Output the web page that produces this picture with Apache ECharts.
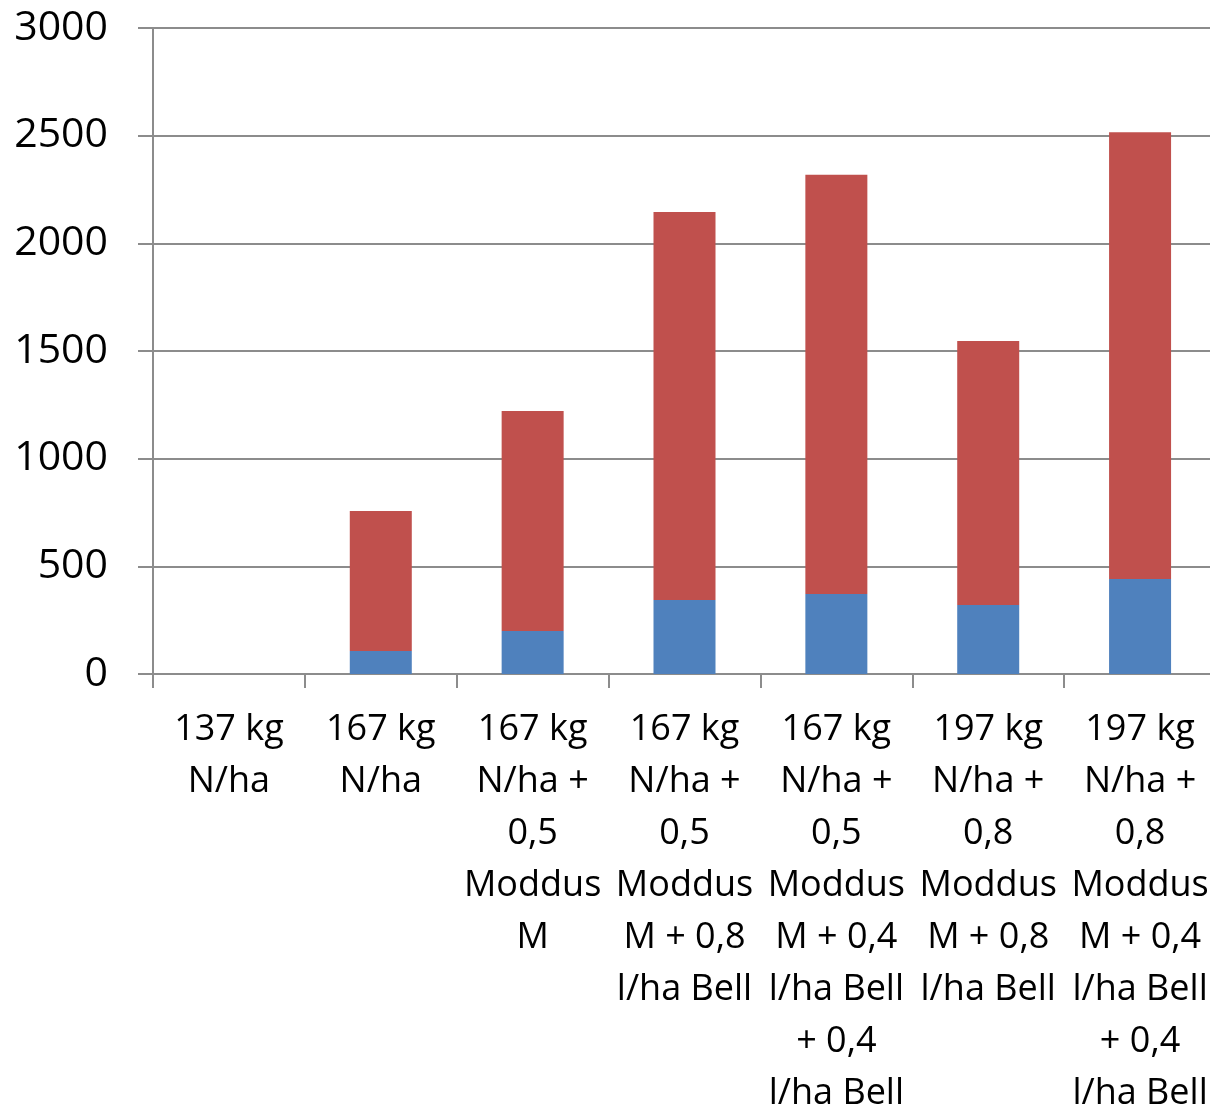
<!DOCTYPE html>
<html>
<head>
<meta charset="utf-8">
<script src="https://cdn.jsdelivr.net/npm/echarts@6/dist/echarts.min.js"></script>
<style>
html,body{margin:0;padding:0;background:#fff;overflow:hidden;}
#chart{width:1210px;height:1113px;}
</style>
</head>
<body>
<div id="chart"></div>
<script>
const categories = [
  "137 kg\nN/ha",
  "167 kg\nN/ha",
  "167 kg\nN/ha +\n0,5\nModdus\nM",
  "167 kg\nN/ha +\n0,5\nModdus\nM + 0,8\nl/ha Bell",
  "167 kg\nN/ha +\n0,5\nModdus\nM + 0,4\nl/ha Bell\n+ 0,4\nl/ha Bell",
  "197 kg\nN/ha +\n0,8\nModdus\nM + 0,8\nl/ha Bell",
  "197 kg\nN/ha +\n0,8\nModdus\nM + 0,4\nl/ha Bell\n+ 0,4\nl/ha Bell"
];
const seriesBlue = [0, 107, 200, 344, 372, 320, 441];
const seriesRed = [0, 650, 1021, 1802, 1946, 1227, 2075];
const yTicks = {min: 0, max: 3000, interval: 500};

const chart = echarts.init(document.getElementById('chart'), null, {renderer: 'canvas'});
const gray = '#8c8c8c';
chart.setOption({
  animation: false,
  backgroundColor: '#ffffff',
  grid: {left: 153, right: -6, top: 28, bottom: 439, containLabel: false, outerBoundsMode: 'none'},
  xAxis: {
    type: 'category',
    data: categories,
    axisLine: {show: true, lineStyle: {color: gray, width: 2}},
    axisTick: {show: true, length: 14, lineStyle: {color: gray, width: 2}},
    axisLabel: {
      interval: 0,
      margin: 30,
      color: '#000',
      fontFamily: 'Open Sans',
      fontSize: 36,
      lineHeight: 52,
      align: 'center'
    },
    splitLine: {show: false}
  },
  yAxis: {
    type: 'value',
    min: yTicks.min,
    max: yTicks.max,
    interval: yTicks.interval,
    axisLine: {show: true, lineStyle: {color: gray, width: 2}},
    axisTick: {show: true, length: 15, lineStyle: {color: gray, width: 2}},
    axisLabel: {
      margin: 45,
      color: '#000',
      fontFamily: 'Open Sans',
      fontSize: 41,
      formatter: function (v) { return String(v); }
    },
    splitLine: {show: true, lineStyle: {color: gray, width: 2}}
  },
  series: [
    {
      name: 'A',
      type: 'bar',
      stack: 'total',
      data: seriesBlue,
      barWidth: 62,
      itemStyle: {color: '#4F81BD'}
    },
    {
      name: 'B',
      type: 'bar',
      stack: 'total',
      data: seriesRed,
      barWidth: 62,
      itemStyle: {color: '#C0504D'}
    }
  ]
});
</script>
</body>
</html>
